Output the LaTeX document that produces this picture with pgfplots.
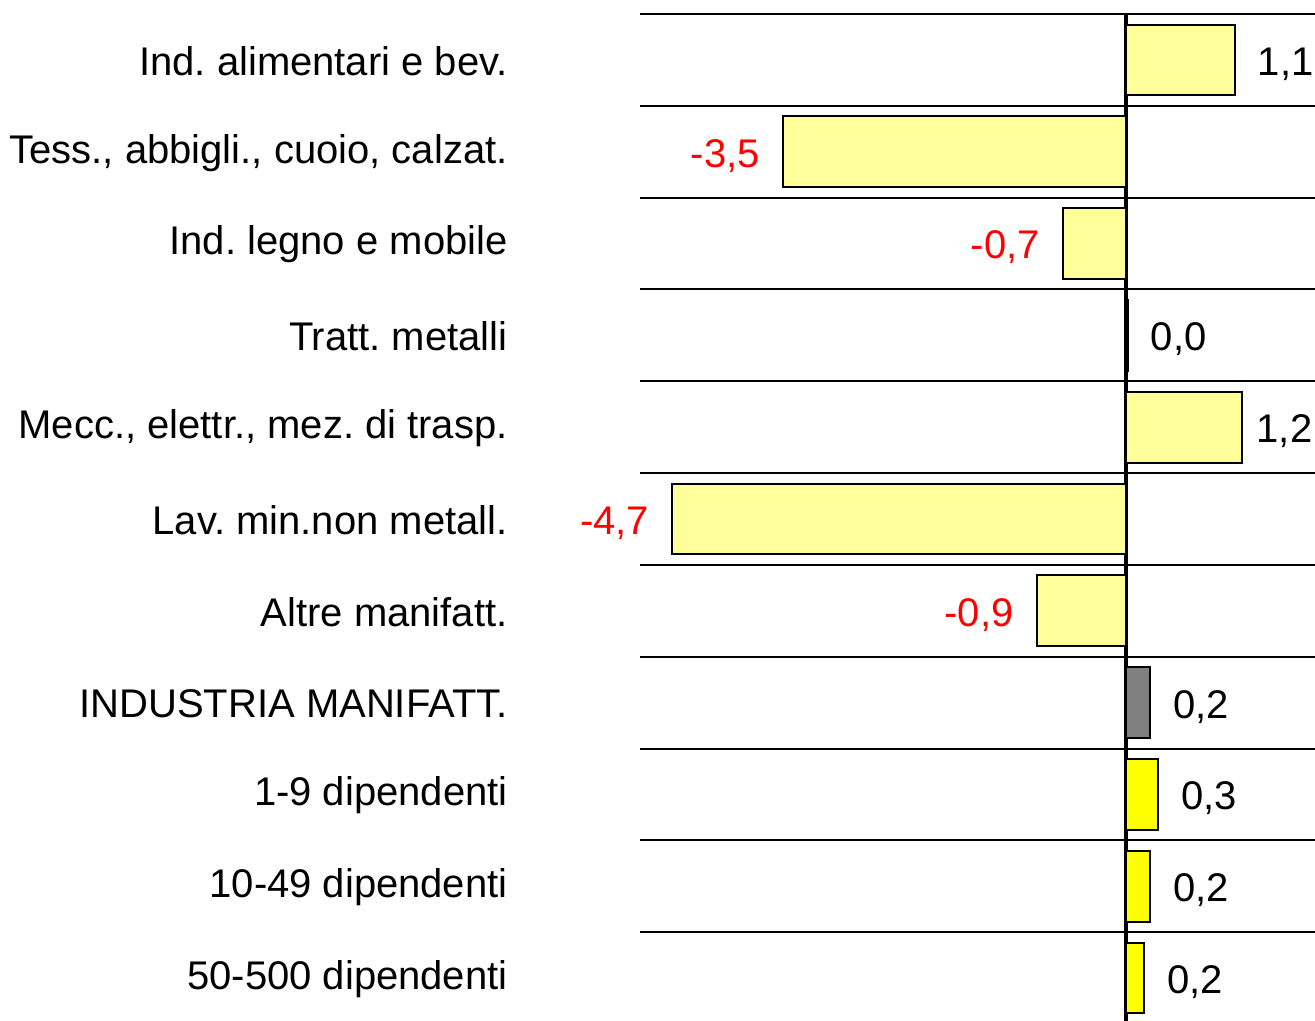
\documentclass[border=0pt]{standalone}
\usepackage{pgfplots}
\pgfplotsset{compat=1.18}
\usepackage{fontspec}
\setmainfont{Liberation Sans}
\frenchspacing
\definecolor{lyellow}{HTML}{FFFF99}
\definecolor{dgray}{HTML}{808080}
\definecolor{fyellow}{HTML}{FFFF00}
\definecolor{fred}{HTML}{FF0000}
\begin{document}
\begin{tikzpicture}
\begin{axis}[name=ax, scale only axis, width=337.5pt, height=503.5pt,
  xbar, bar width=0.77, bar shift=0pt,
  xmin=-5, xmax=1.944, ymin=-0.5, ymax=10.467, y dir=reverse,
  axis line style={draw=none},
  xtick=\empty,
  ytick={0,...,10},
  yticklabels={Ind. alimentari e bev., {Tess., abbigli., cuoio, calzat.}, Ind. legno e mobile, Tratt. metalli, {Mecc., elettr., mez. di trasp.}, Lav. min.non metall., Altre manifatt., INDUSTRIA MANIFATT., 1-9 dipendenti, 10-49 dipendenti, 50-500 dipendenti},
  yticklabel style={font=\fontsize{20}{23}\selectfont\frenchspacing, anchor=east, inner sep=0pt, xshift=-66pt, yshift=-0.5pt},
  major tick length=0pt, minor tick length=0pt,
  minor ytick={-0.5,0.5,...,10.5}, yminorgrids,
  minor grid style={black, line width=1pt},
  extra x ticks={0}, extra x tick labels={},
  extra x tick style={grid=major, major grid style={black, line width=1.6pt}},
  clip=false,
  nodes near coords, point meta=explicit symbolic,
  every node near coord/.append style={font=\fontsize{20}{23}\selectfont, inner xsep=11pt, inner ysep=0pt, yshift=-2pt},
]
\addplot[fill=lyellow, draw=black, line width=1pt, every node near coord/.append style={anchor=west}] table[x=x, y=y, meta=lab] {
x y lab
1.12 0 1,1
0.02 3 0,0
};
\addplot[fill=lyellow, draw=black, line width=1pt, every node near coord/.append style={anchor=west, inner xsep=7pt}] table[x=x, y=y, meta=lab] {
x y lab
1.19 4 1,2
};
\addplot[fill=lyellow, draw=black, line width=1pt, every node near coord/.append style={text=fred, anchor=east}] table[x=x, y=y, meta=lab] {
x y lab
-3.53 1 -3,5
-0.65 2 -0,7
-4.67 5 -4,7
-0.92 6 -0,9
};
\addplot[fill=dgray, draw=black, line width=1pt, every node near coord/.append style={anchor=west}] table[x=x, y=y, meta=lab] {
x y lab
0.25 7 0,2
};
\addplot[fill=fyellow, draw=black, line width=1pt, every node near coord/.append style={anchor=west}] table[x=x, y=y, meta=lab] {
x y lab
0.33 8 0,3
0.25 9 0,2
0.19 10 0,2
};
\end{axis}
\pgfresetboundingbox
\useasboundingbox ([xshift=-320pt]ax.south west) rectangle ([yshift=7pt]ax.north east);
\end{tikzpicture}
\end{document}
